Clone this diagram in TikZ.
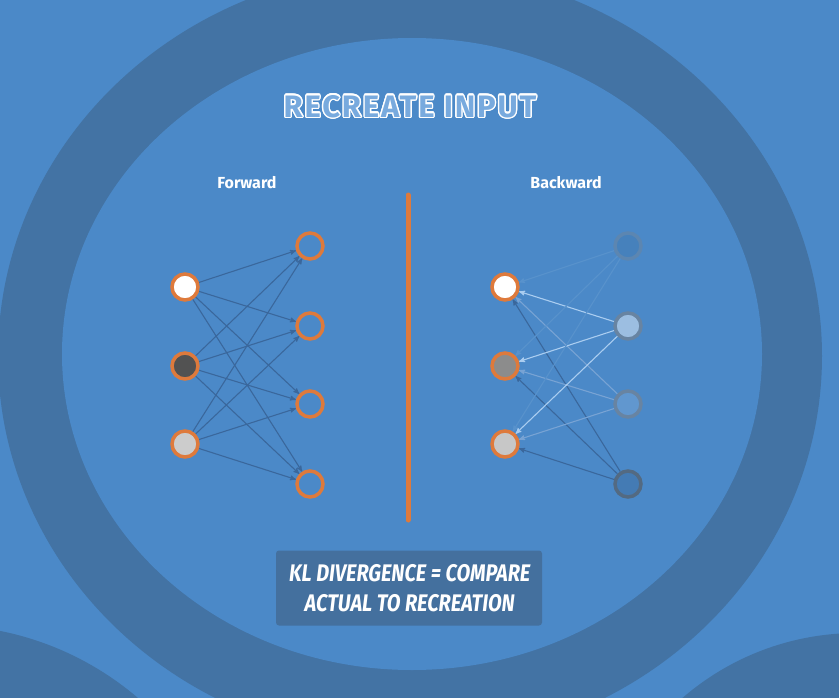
\documentclass[tikz,border=0pt]{standalone}
\usepackage{fontspec}
\setmainfont{Fira Sans}
\newfontfamily\capsfont{Fira Sans}[FakeStretch=0.82, FakeSlant=0.12]
\newfontfamily\titlefont{Fira Sans}[LetterSpace=6]
\usepackage{contour}
\usepackage{tikz}
\usetikzlibrary{arrows, positioning}
\definecolor{bgblue}{RGB}{75, 137, 200}
\definecolor{ringblue}{RGB}{67, 115, 164}
\definecolor{boxblue}{RGB}{68, 112, 158}
\definecolor{nodeorange}{RGB}{222, 122, 60}
\definecolor{linedark}{RGB}{58, 103, 156}
\definecolor{linelight}{RGB}{170, 205, 240}
\definecolor{linemid}{RGB}{120, 163, 212}
\definecolor{linefaint}{RGB}{88, 146, 204}
\definecolor{ghostrim}{RGB}{104, 132, 162}
\definecolor{titlefill}{RGB}{120, 170, 222}
\contourlength{1.3pt}

\begin{document}
\begin{tikzpicture}[
    x=1pt, y=-1pt,
    neuron/.style={circle, draw=nodeorange, line width=3.5pt, minimum size=26pt, inner sep=0pt, fill=bgblue},
    ghost/.style={circle, draw=ghostrim, line width=3.5pt, minimum size=26pt, inner sep=0pt},
    fwd/.style={-{stealth'}, line width=1.1pt, draw=linedark},
    bwd/.style={-{stealth'}, line width=1.1pt},
    label/.style={text=white, font=\fontsize{16}{18}\selectfont\bfseries}
]
    % Background and rings
    \useasboundingbox (0, 0) rectangle (839, 697);
    \fill[bgblue] (-10, -10) rectangle (849, 707);
    \fill[ringblue] (-60, 930) circle [radius=305];
    \fill[ringblue] (857, 900) circle [radius=267];
    \fill[ringblue] (410, 356) ellipse [x radius=412, y radius=388];
    \fill[bgblue] (412, 354) ellipse [x radius=350, y radius=316];

    % Title and divider
    \node[font=\titlefont\fontsize{31}{36}\selectfont\bfseries] (title) at (410, 107)
        {\contour{white}{\textcolor{titlefill}{RECREATE INPUT}}};
    \draw[nodeorange, line width=5pt, line cap=round] (408, 195) coordinate (top) -- (408, 520) coordinate (bottom);

    % Forward network
    \node[label] (fwdlabel) at (247, 183) {Forward};
    \node[neuron, fill=white] (fin1) at (185, 287) {};
    \node[neuron, fill=black!68] (fin2) at (185, 366) {};
    \node[neuron, fill=black!20] (fin3) at (185, 444) {};
    \node[neuron] (fout1) at (310, 246) {};
    \node[neuron] (fout2) at (310, 326) {};
    \node[neuron] (fout3) at (310, 404) {};
    \node[neuron] (fout4) at (310, 484) {};
    \foreach \i in {1,2,3}
        \foreach \j in {1,2,3,4}
            \draw[fwd] (fin\i) -- (fout\j);

    % Backward network
    \node[label] (bwdlabel) at (566, 183) {Backward};
    \node[neuron, fill=white] (bin1) at (505, 287) {};
    \node[neuron, fill=black!45] (bin2) at (505, 366) {};
    \node[neuron, fill=black!22] (bin3) at (505, 444) {};
    \node[ghost, draw=ghostrim!60!bgblue, fill=black!6!bgblue] (bout1) at (628, 246) {};
    \node[ghost, fill=bgblue!55!white] (bout2) at (628, 326) {};
    \node[ghost, fill=bgblue!88!white] (bout3) at (628, 404) {};
    \node[ghost, draw=ghostrim!80!black, fill=black!10!bgblue] (bout4) at (628, 484) {};
    \foreach \i in {1,2,3} {
        \draw[bwd, draw=linefaint] (bout1) -- (bin\i);
        \draw[bwd, draw=linedark] (bout4) -- (bin\i);
        \draw[bwd, draw=linemid] (bout3) -- (bin\i);
        \draw[bwd, draw=linelight] (bout2) -- (bin\i);
    }

    % Summary box
    \node[fill=boxblue, rounded corners=3pt, minimum width=266pt, minimum height=75pt,
          align=center, text=white, font=\capsfont\fontsize{24}{30}\selectfont\bfseries] (kl) at (409, 588)
        {KL DIVERGENCE = COMPARE\\ACTUAL TO RECREATION};
\end{tikzpicture}
\end{document}
